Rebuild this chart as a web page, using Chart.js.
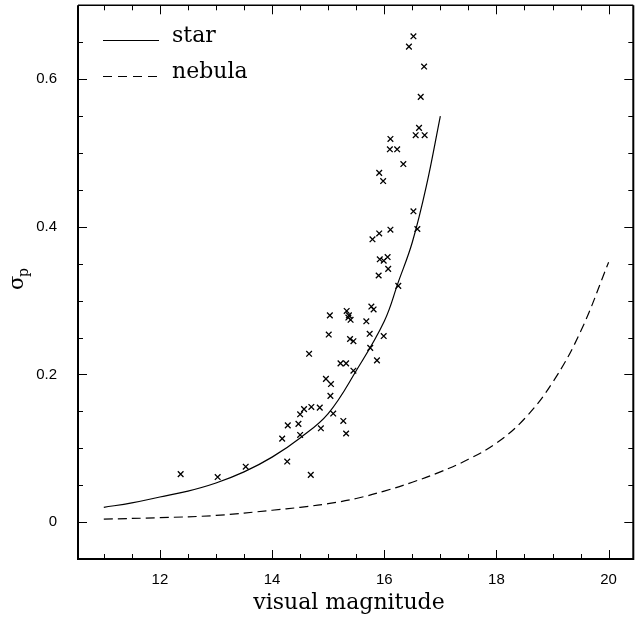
<!DOCTYPE html>
<html>
<head>
<meta charset="utf-8">
<script src="https://cdn.jsdelivr.net/npm/chart.js@4/dist/chart.umd.min.js"></script>
<style>
html,body{margin:0;padding:0;background:#fff;}
#wrap{width:643px;height:618px;position:relative;}
</style>
</head>
<body>
<div id="wrap"><canvas id="c" width="643" height="618"></canvas></div>
<script>
// ---- data ----
const xTickValues = [12, 14, 16, 18, 20];
const yTickValues = [0, 0.2, 0.4, 0.6];
const yTickLabels = ["0", "0.2", "0.4", "0.6"];
const seriesLabels = ["star", "nebula"];

const magStar   = [11, 11.5, 12, 12.5, 13, 13.5, 14, 14.5, 15, 15.5, 16, 16.25, 16.5, 16.75, 17];
const sigmaStar = [0.020, 0.026, 0.034, 0.042, 0.053, 0.068, 0.088, 0.114, 0.147, 0.205, 0.272, 0.325, 0.379, 0.455, 0.550];

const magNebula   = [11, 12, 13, 14, 14.5, 15, 15.5, 16, 16.5, 17, 17.5, 18, 18.5, 19, 19.5, 20];
const sigmaNebula = [0.004, 0.006, 0.009, 0.016, 0.020, 0.025, 0.032, 0.042, 0.054, 0.068, 0.085, 0.107, 0.140, 0.189, 0.258, 0.352];

const magObs = [12.37, 13.03, 13.53, 14.18, 14.28, 14.27, 14.47, 14.50, 14.50, 14.57, 14.69, 14.70, 14.66, 14.85, 14.87,
  14.96, 15.05, 15.04, 15.09, 15.27, 15.32, 15.22, 15.32, 15.45, 15.01, 15.03, 15.33, 15.37, 15.40, 15.36,
  15.39, 15.45, 15.68, 15.74, 15.75, 15.77, 15.81, 15.87, 15.99, 16.25, 15.90, 16.07, 15.92, 15.99, 16.06,
  15.79, 15.91, 16.11, 16.59, 16.52, 15.98, 15.91, 16.34, 16.10, 16.23, 16.11, 16.56, 16.72, 16.62, 16.65,
  16.71, 16.44, 16.52];
const sigmaObs = [0.065, 0.061, 0.075, 0.113, 0.131, 0.082, 0.133, 0.118, 0.146, 0.153, 0.064, 0.156, 0.228, 0.155, 0.127,
  0.194, 0.187, 0.171, 0.147, 0.137, 0.120, 0.215, 0.215, 0.205, 0.254, 0.280, 0.286, 0.280, 0.274, 0.277,
  0.248, 0.245, 0.272, 0.255, 0.236, 0.292, 0.288, 0.219, 0.252, 0.320, 0.334, 0.343, 0.356, 0.354, 0.359,
  0.383, 0.391, 0.396, 0.397, 0.421, 0.462, 0.473, 0.485, 0.505, 0.505, 0.519, 0.524, 0.524, 0.534, 0.576,
  0.617, 0.644, 0.658];

const toPts = (xs, ys) => xs.map((x, i) => ({x: x, y: ys[i]}));

const SERIF = '"DejaVu Serif", "Liberation Serif", serif';
const SANS = '"Liberation Sans", Arial, sans-serif';

const framePlugin = {
  id: 'frame',
  afterDraw(chart) {
    const ctx = chart.ctx;
    const a = chart.chartArea;
    const xs = chart.scales.x, ys = chart.scales.y;
    ctx.save();
    ctx.strokeStyle = '#000';
    // frame
    ctx.lineWidth = 2;
    ctx.beginPath();
    ctx.moveTo(a.left, a.top); ctx.lineTo(a.left, a.bottom); ctx.lineTo(a.right, a.bottom); ctx.lineTo(a.right, a.top);
    ctx.stroke();
    ctx.lineWidth = 1.5;
    ctx.beginPath(); ctx.moveTo(a.left, a.top); ctx.lineTo(a.right, a.top); ctx.stroke();
    // ticks
    ctx.lineWidth = 1;
    ctx.beginPath();
    for (let v = 11; v <= 20.001; v += 0.5) {
      const px = Math.round(xs.getPixelForValue(v)) + 0.5;
      const major = Math.abs(v / 2 - Math.round(v / 2)) < 1e-6;
      const L = major ? 9 : 5;
      ctx.moveTo(px, a.bottom); ctx.lineTo(px, a.bottom - L);
      ctx.moveTo(px, a.top); ctx.lineTo(px, a.top + L);
    }
    for (let i = 0; i <= 13; i++) {
      const v = i * 0.05;
      const py = Math.round(ys.getPixelForValue(v)) + 0.5;
      const major = i % 4 === 0;
      const L = major ? 9 : 5;
      ctx.moveTo(a.left, py); ctx.lineTo(a.left + L, py);
      ctx.moveTo(a.right, py); ctx.lineTo(a.right - L, py);
    }
    ctx.stroke();

    // legend
    ctx.lineWidth = 1.2;
    ctx.beginPath(); ctx.moveTo(103, 40.5); ctx.lineTo(159, 40.5); ctx.stroke();
    ctx.setLineDash([9, 6]);
    ctx.beginPath(); ctx.moveTo(103, 76.5); ctx.lineTo(159, 76.5); ctx.stroke();
    ctx.setLineDash([]);
    ctx.fillStyle = '#000';
    ctx.font = '22px ' + SERIF;
    ctx.textAlign = 'left';
    ctx.textBaseline = 'alphabetic';
    ctx.fillText(seriesLabels[0], 172, 42);
    ctx.fillText(seriesLabels[1], 172, 78);

    // x title
    ctx.textAlign = 'center';
    ctx.fillText('visual magnitude', 349, 609);

    // y title (sigma_p), rotated
    ctx.translate(20, 281);
    ctx.rotate(-Math.PI / 2);
    ctx.textAlign = 'left';
    ctx.font = '21px ' + SERIF;
    ctx.fillText('σ', -9, 3);
    ctx.font = '14px ' + SERIF;
    ctx.fillText('p', 4, 8);
    ctx.restore();
  }
};

new Chart(document.getElementById('c'), {
  type: 'scatter',
  data: {
    datasets: [
      {
        label: 'observed',
        data: toPts(magObs, sigmaObs),
        pointStyle: 'crossRot',
        pointRadius: 4,
        pointBorderWidth: 1.3,
        borderColor: '#000',
        backgroundColor: '#000',
        showLine: false
      },
      {
        label: seriesLabels[0],
        data: toPts(magStar, sigmaStar),
        showLine: true,
        pointRadius: 0,
        borderColor: '#000',
        borderWidth: 1.2,
        tension: 0.4,
        fill: false
      },
      {
        label: seriesLabels[1],
        data: toPts(magNebula, sigmaNebula),
        showLine: true,
        pointRadius: 0,
        borderColor: '#000',
        borderWidth: 1.2,
        borderDash: [9, 5],
        tension: 0.4,
        fill: false
      }
    ]
  },
  options: {
    responsive: false,
    animation: false,
    events: [],
    layout: {padding: {top: 2.75, right: 9.7, left: 0, bottom: 0}},
    plugins: {legend: {display: false}, tooltip: {enabled: false}, title: {display: false}},
    scales: {
      x: {
        type: 'linear',
        min: 10.54, max: 20.44,
        border: {display: false},
        grid: {display: false},
        afterBuildTicks: (s) => { s.ticks = xTickValues.map(v => ({value: v})); },
        afterFit: (s) => { s.height = 59; s.paddingLeft = 0; s.paddingRight = 0; },
        ticks: {
          color: '#000',
          font: {family: SANS, size: 15},
          padding: 4,
          maxRotation: 0,
          autoSkip: false,
          callback: (v) => String(v)
        }
      },
      y: {
        type: 'linear',
        min: -0.05, max: 0.7,
        border: {display: false},
        grid: {display: false},
        afterBuildTicks: (s) => { s.ticks = yTickValues.map(v => ({value: v})); },
        afterFit: (s) => { s.width = 78; s.paddingTop = 0; s.paddingBottom = 0; },
        ticks: {
          color: '#000',
          font: {family: SANS, size: 15},
          padding: 13,
          autoSkip: false,
          callback: (v) => { const i = yTickValues.findIndex(t => Math.abs(t - v) < 1e-9); return i >= 0 ? yTickLabels[i] : ''; }
        }
      }
    }
  },
  plugins: [framePlugin]
});
</script>
</body>
</html>
